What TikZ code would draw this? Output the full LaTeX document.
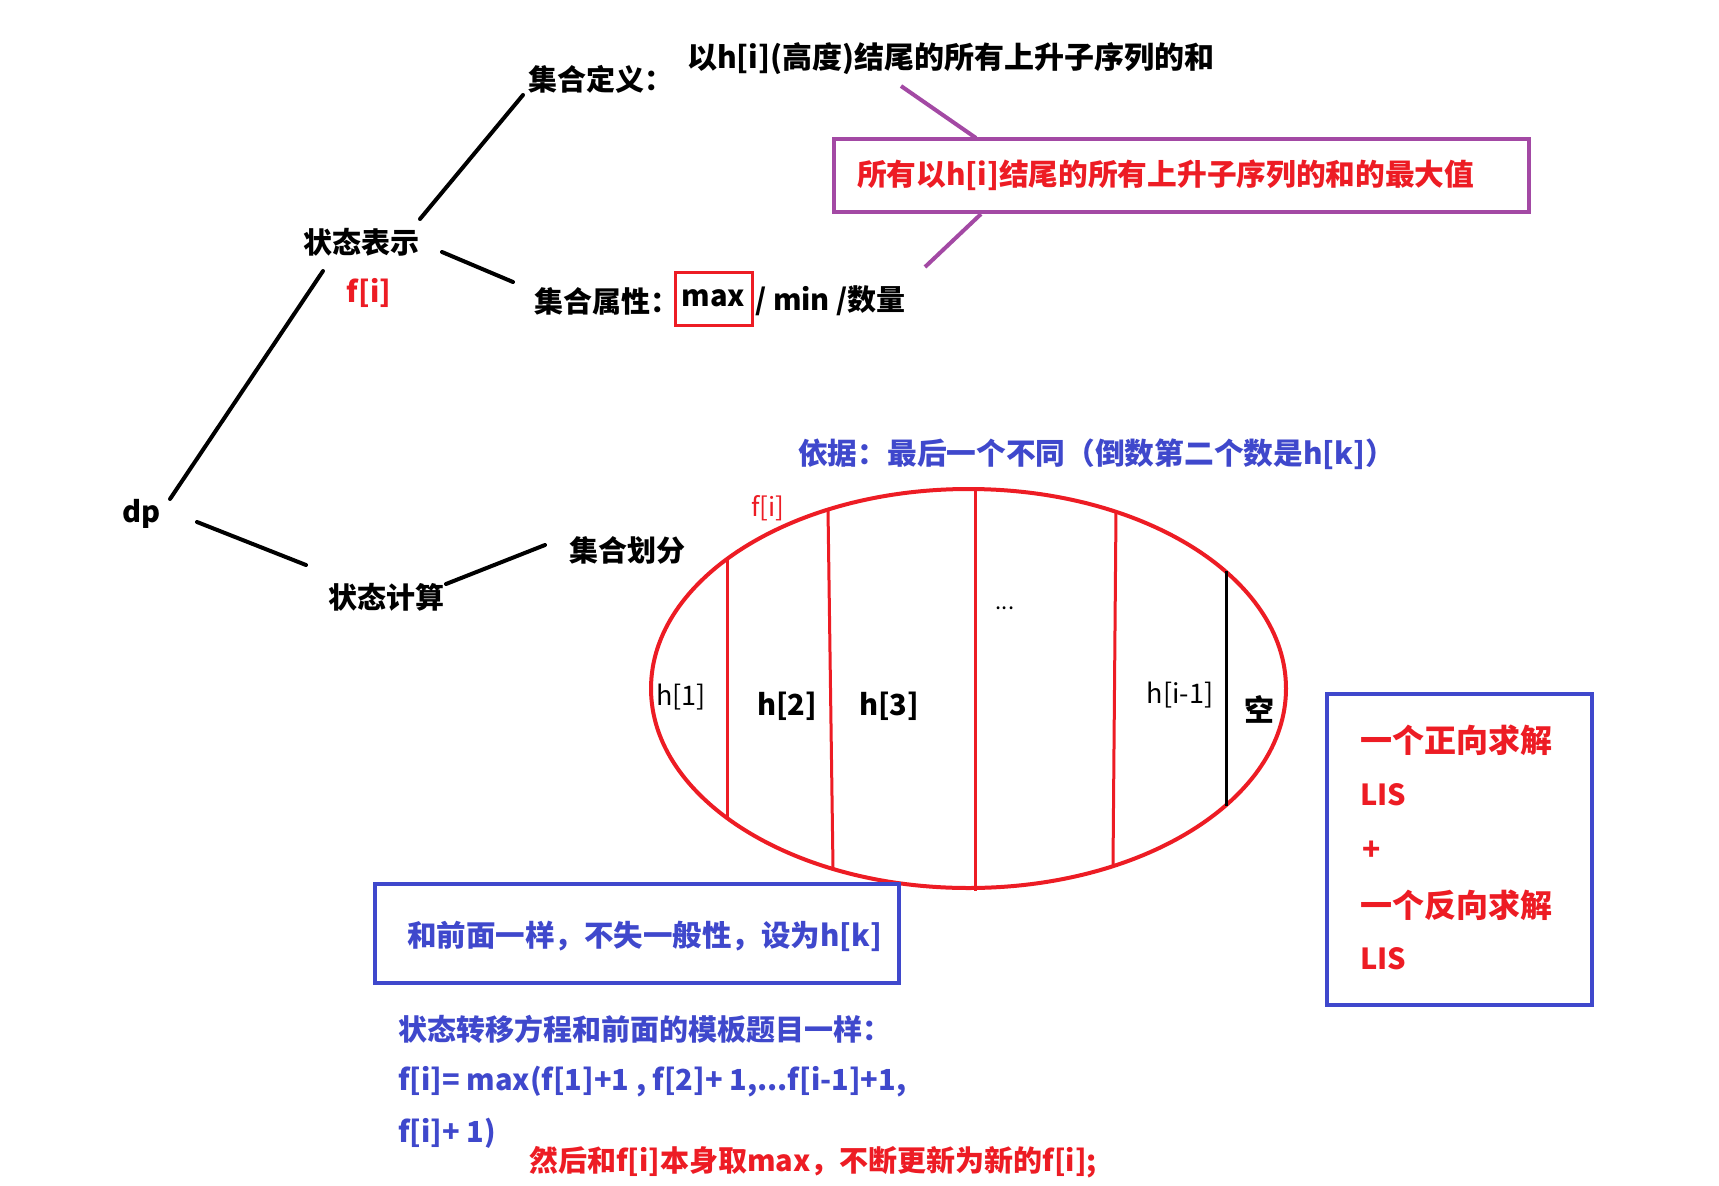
\documentclass[tikz,border=0pt]{standalone}
\usepackage{fontspec}
\setmainfont{Noto Sans CJK SC}
\definecolor{pred}{RGB}{237,28,36}
\definecolor{pblue}{RGB}{63,72,204}
\definecolor{ppurple}{RGB}{163,73,164}
\tikzset{
  txt/.style={inner sep=0pt, font=\fontsize{29}{34}\selectfont\bfseries},
  reg/.style={inner sep=0pt, font=\fontsize{27}{32}\selectfont},
  blk/.style={draw=black, line width=4pt, line cap=round},
  purp/.style={draw=ppurple, line width=4pt},
  redln/.style={draw=pred, line width=3pt},
  bluebox/.style={draw=pblue, line width=4pt, inner sep=0pt},
}
\begin{document}
\begin{tikzpicture}[x=1pt,y=-1pt]
\useasboundingbox[fill=white] (0,0) rectangle (1719,1186);

% tree texts
\node[txt, anchor=west] (dp) at (122,514) {dp};
\node[txt] (ztbs) at (361,242) {状态表示};
\node[txt, text=pred] (fi) at (369,293) {f[i]};
\node[txt, anchor=west] (jhdy) at (528,79) {集合定义：};
\node[txt, anchor=west, font=\fontsize{30}{34}\selectfont\bfseries] (def) at (687,59) {以h[i](高度)结尾的所有上升子序列的和};
\node[txt, anchor=west] (jhsx) at (534,301) {集合属性：};
\node[txt, draw=pred, line width=3pt, minimum width=77pt, minimum height=53pt] (max) at (713.5,298.5) {max};
\node[txt, anchor=west] (rest) at (755,301) {/ min /数量};
\node[txt] (ztjs) at (386,597) {状态计算};
\node[txt, anchor=west] (jhhf) at (569,550) {集合划分};

% purple box
\node[draw=ppurple, line width=4pt, minimum width=695pt, minimum height=73pt, inner sep=0pt] (pbox) at (1181.5,175.5) {};
\node[txt, anchor=west, text=pred, font=\fontsize{29.7}{34}\selectfont\bfseries] (ptext) at (857,175) {所有以h[i]结尾的所有上升子序列的和的最大值};

% tree connectors
\coordinate (c1a) at (170,499); \coordinate (c1b) at (323,271);
\coordinate (c2a) at (420,219); \coordinate (c2b) at (523,95);
\coordinate (c3a) at (442,252); \coordinate (c3b) at (513,282);
\coordinate (c4a) at (197,522); \coordinate (c4b) at (306,565);
\coordinate (c5a) at (446,584); \coordinate (c5b) at (545,545);
\draw[blk] (c1a) -- (c1b);
\draw[blk] (c2a) -- (c2b);
\draw[blk] (c3a) -- (c3b);
\draw[blk] (c4a) -- (c4b);
\draw[blk] (c5a) -- (c5b);

% purple connectors
\coordinate (p1a) at (901,86); \coordinate (p1b) at (976,138);
\coordinate (p2a) at (981,214); \coordinate (p2b) at (925,267);
\draw[purp] (p1a) -- (p1b);
\draw[purp] (p2a) -- (p2b);

% blue heading
\node[txt, anchor=west, text=pblue, font=\fontsize{29.7}{34}\selectfont\bfseries] (yiju) at (798,454) {依据：最后一个不同（倒数第二个数是h[k]）};

% ellipse with partitions
\draw[draw=pred, line width=4pt] (968.5,688.5) ellipse [x radius=317.5pt, y radius=199.5pt];
\draw[redln] (727,558) -- (727,818);
\draw[redln] (828,509) -- (833,868);
\draw[redln] (975,489) -- (975,891);
\draw[redln] (1116,511) -- (1113,866);
\draw[draw=black, line width=3pt] (1226,571) -- (1226,806);

\node[reg, text=pred, font=\fontsize{26}{30}\selectfont] (fi2) at (768,508) {f[i]};
\node[reg] (h1) at (681,697) {h[1]};
\node[txt] (h2) at (787,706) {h[2]};
\node[txt] (h3) at (889,706) {h[3]};
\node[reg, font=\fontsize{22}{26}\selectfont] (dots) at (1005,608) {...};
\node[reg] (hi1) at (1180,695) {h[i-1]};
\node[txt, font=\fontsize{30}{34}\selectfont\bfseries] (kong) at (1259,709) {空};

% blue box 1
\node[bluebox, minimum width=524pt, minimum height=99pt] (bbox) at (637,933.5) {};
\node[txt, anchor=west, text=pblue, font=\fontsize{29.5}{34}\selectfont\bfseries] (btext) at (407,936) {和前面一样，不失一般性，设为h[k]};

% transition text
\node[txt, anchor=west, text=pblue] (tr1) at (398,1029) {状态转移方程和前面的模板题目一样：};
\node[txt, anchor=west, text=pblue] (tr2) at (398,1082) {f[i]= max(f[1]+1 , f[2]+ 1,...f[i-1]+1,};
\node[txt, anchor=west, text=pblue] (tr3) at (398,1133) {f[i]+ 1)};
\node[txt, anchor=west, text=pred] (tr4) at (529,1162) {然后和f[i]本身取max，不断更新为新的f[i];};

% right blue box
\node[bluebox, minimum width=265pt, minimum height=311pt] (rbox) at (1459.5,849.5) {};
\node[txt, anchor=west, text=pred, font=\fontsize{32}{36}\selectfont\bfseries] (r1) at (1360,740) {一个正向求解};
\node[txt, anchor=west, text=pred] (r2) at (1360,795) {LIS};
\node[txt, anchor=west, text=pred, font=\fontsize{30}{34}\selectfont\bfseries] (r3) at (1362,851) {+};
\node[txt, anchor=west, text=pred, font=\fontsize{32}{36}\selectfont\bfseries] (r4) at (1360,905) {一个反向求解};
\node[txt, anchor=west, text=pred] (r5) at (1360,959) {LIS};
\end{tikzpicture}
\end{document}
